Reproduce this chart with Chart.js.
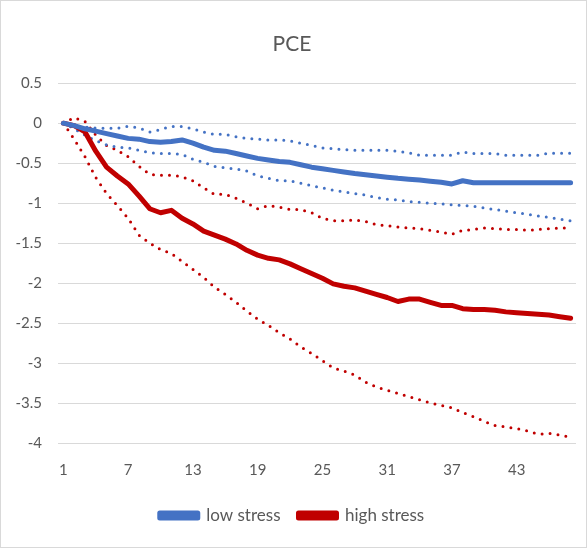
<!DOCTYPE html>
<html>
<head>
<meta charset="utf-8">
<script src="https://cdn.jsdelivr.net/npm/chart.js@4"></script>
<style>
  html, body { margin: 0; padding: 0; background: #fff; }
  #frame { width: 585px; height: 546px; border: 1px solid #d9d9d9; }
</style>
</head>
<body>
<div id="frame"><canvas id="pceChart" width="585" height="546"></canvas></div>
<script>
const months = ["1","2","3","4","5","6","7","8","9","10","11","12","13","14","15","16",
  "17","18","19","20","21","22","23","24","25","26","27","28","29","30","31","32",
  "33","34","35","36","37","38","39","40","41","42","43","44","45","46","47","48"];

const lowStress = [0, -0.03, -0.07, -0.10, -0.13, -0.16, -0.19, -0.20, -0.23, -0.24, -0.23, -0.21,
  -0.25, -0.30, -0.34, -0.35, -0.38, -0.41, -0.44, -0.46, -0.48, -0.49, -0.52, -0.55,
  -0.57, -0.59, -0.61, -0.63, -0.645, -0.66, -0.675, -0.69, -0.70, -0.71, -0.725, -0.74,
  -0.76, -0.72, -0.745, -0.745, -0.745, -0.745, -0.745, -0.745, -0.745, -0.745, -0.745, -0.745];

const lowUpper = [0, -0.03, -0.05, -0.06, -0.065, -0.065, -0.04, -0.06, -0.11, -0.08, -0.04, -0.04,
  -0.07, -0.11, -0.14, -0.14, -0.17, -0.19, -0.20, -0.21, -0.21, -0.22, -0.25, -0.28,
  -0.31, -0.32, -0.33, -0.34, -0.34, -0.34, -0.34, -0.35, -0.37, -0.40, -0.40, -0.40,
  -0.40, -0.36, -0.38, -0.38, -0.38, -0.40, -0.40, -0.40, -0.40, -0.375, -0.375, -0.375];

const lowLower = [0, -0.07, -0.15, -0.22, -0.27, -0.30, -0.31, -0.34, -0.37, -0.38, -0.38, -0.39,
  -0.45, -0.49, -0.54, -0.56, -0.57, -0.60, -0.66, -0.69, -0.72, -0.72, -0.75, -0.78,
  -0.81, -0.84, -0.86, -0.88, -0.90, -0.93, -0.95, -0.96, -0.98, -0.99, -1.00, -1.01,
  -1.02, -1.03, -1.04, -1.06, -1.08, -1.10, -1.12, -1.14, -1.16, -1.18, -1.20, -1.22];

const highStress = [0, -0.03, -0.11, -0.35, -0.55, -0.66, -0.76, -0.91, -1.07, -1.12, -1.09, -1.19,
  -1.26, -1.35, -1.40, -1.45, -1.51, -1.59, -1.65, -1.69, -1.71, -1.76, -1.82, -1.88,
  -1.94, -2.01, -2.04, -2.06, -2.10, -2.14, -2.18, -2.23, -2.20, -2.20, -2.24, -2.28,
  -2.28, -2.32, -2.33, -2.33, -2.34, -2.36, -2.37, -2.38, -2.39, -2.40, -2.42, -2.44];

const highUpper = [0, 0.07, 0.02, -0.15, -0.28, -0.34, -0.42, -0.54, -0.64, -0.65, -0.65, -0.67,
  -0.72, -0.81, -0.89, -0.89, -0.94, -1.00, -1.07, -1.03, -1.05, -1.08, -1.08, -1.12,
  -1.19, -1.22, -1.22, -1.21, -1.23, -1.27, -1.28, -1.30, -1.31, -1.32, -1.34, -1.36,
  -1.39, -1.34, -1.33, -1.31, -1.32, -1.33, -1.33, -1.34, -1.33, -1.32, -1.31, -1.31];

const highLower = [0, -0.20, -0.42, -0.68, -0.88, -1.03, -1.19, -1.40, -1.50, -1.58, -1.63, -1.73,
  -1.83, -1.93, -2.05, -2.14, -2.24, -2.35, -2.45, -2.53, -2.62, -2.70, -2.80, -2.88,
  -2.97, -3.06, -3.10, -3.15, -3.24, -3.30, -3.34, -3.38, -3.42, -3.46, -3.50, -3.53,
  -3.56, -3.62, -3.67, -3.73, -3.78, -3.80, -3.82, -3.85, -3.89, -3.88, -3.90, -3.93];

const BLUE = "#4472C4";
const RED = "#C00000";
const TEXT = "#595959";

Chart.defaults.font.family = "Lato, 'Open Sans', sans-serif";
Chart.defaults.color = TEXT;

const solid = (label, data, color) => ({
  label, data,
  borderColor: color,
  backgroundColor: color,
  borderWidth: 5,
  borderCapStyle: "round",
  borderJoinStyle: "round",
  pointRadius: 0,
  tension: 0,
});

const dotted = (label, data, color) => ({
  label, data,
  borderColor: color,
  backgroundColor: color,
  borderWidth: 3,
  borderDash: [0, 8],
  borderCapStyle: "round",
  pointRadius: 0,
  tension: 0,
});

new Chart(document.getElementById("pceChart"), {
  type: "line",
  data: {
    labels: months,
    datasets: [
      solid("low stress", lowStress, BLUE),
      solid("high stress", highStress, RED),
      dotted("low upper", lowUpper, BLUE),
      dotted("low lower", lowLower, BLUE),
      dotted("high upper", highUpper, RED),
      dotted("high lower", highLower, RED),
    ],
  },
  options: {
    responsive: false,
    animation: false,
    layout: { padding: { left: 7, right: 10, top: 23, bottom: 13 } },
    plugins: {
      title: {
        display: true,
        text: "PCE",
        color: TEXT,
        font: { size: 21, weight: "normal" },
        padding: { top: 8, bottom: 26 },
      },
      legend: {
        position: "bottom",
        labels: {
          filter: (item) => item.datasetIndex < 2,
          boxWidth: 38,
          boxHeight: 5,
          padding: 18,
          color: TEXT,
          font: { size: 17 },
        },
      },
      tooltip: { enabled: false },
    },
    scales: {
      x: {
        offset: true,
        grid: { display: false },
        border: { display: false },
        ticks: {
          autoSkip: false,
          maxRotation: 0,
          padding: 10,
          color: TEXT,
          font: { size: 15 },
          callback: function (value, index) {
            return index % 6 === 0 ? this.getLabelForValue(value) : "";
          },
        },
      },
      y: {
        min: -4,
        max: 0.5,
        afterFit: (scale) => { scale.width = 50; },
        grid: { color: "#d9d9d9", drawTicks: false },
        border: { display: false },
        ticks: {
          stepSize: 0.5,
          padding: 16,
          color: TEXT,
          font: { size: 15 },
          callback: (value) => String(Number(value.toFixed(1))),
        },
      },
    },
  },
});
</script>
</body>
</html>
